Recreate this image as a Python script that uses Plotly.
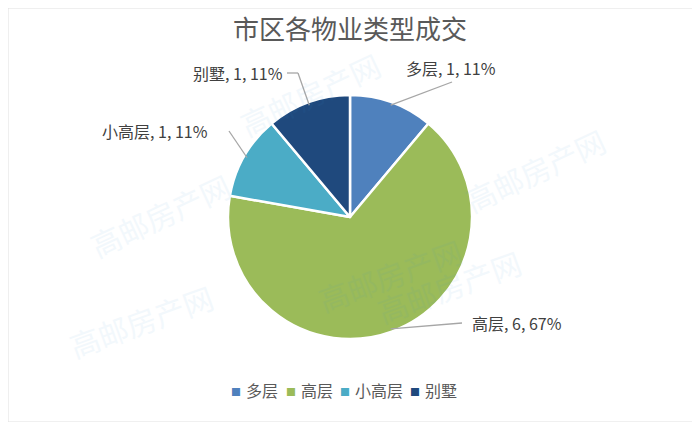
import math
import plotly.graph_objects as go

labels = ["多层", "高层", "小高层", "别墅"]
values = [1, 6, 1, 1]
colors = ["#4F81BD", "#9BBB59", "#4BACC6", "#1F497D"]
title = "市区各物业类型成交"

# the page body has an 8px margin; work in screen pixels and convert
OFF = 8
W, H = 700 - OFF, 422 - OFF


def px(x):
    return (x - OFF) / W


def py(y):
    return 1 - (y - OFF) / H


cx, cy, R = 350, 217, 122  # screen-pixel center / radius of the pie

# label positions and leader-line elbows (screen px) - style only
label_pos = {
    "多层": (451, 68, [(452, 82)]),
    "高层": (517, 323, [(462, 323)]),
    "小高层": (155, 131, [(229, 131)]),
    "别墅": (238, 73, [(287, 73), (298, 73)]),
}

fig = go.Figure(go.Pie(
    labels=labels, values=values, sort=False, direction="clockwise", rotation=0,
    marker=dict(colors=colors, line=dict(color="white", width=2.5)),
    textinfo="none", hoverinfo="label+value+percent",
    domain=dict(x=[px(cx - R), px(cx + R)], y=[py(cy + R), py(cy - R)]),
    showlegend=False,
))

total = sum(values)
cum = 0
shapes = []
annotations = []
for lab, v in zip(labels, values):
    mid = (cum + v / 2) / total * 2 * math.pi
    cum += v
    ax = cx + (R - 3) * math.sin(mid)
    ay = cy - (R - 3) * math.cos(mid)
    tx, ty, pts = label_pos[lab]
    path_pts = [(ax, ay)] + list(reversed(pts))
    for (x0, y0), (x1, y1) in zip(path_pts[:-1], path_pts[1:]):
        shapes.append(dict(type="line", xref="paper", yref="paper",
                           x0=px(x0), y0=py(y0), x1=px(x1), y1=py(y1),
                           line=dict(color="#A6A6A6", width=1.3)))
    pct = round(v / total * 100)
    annotations.append(dict(text=f"{lab}, {v}, {pct}%", x=px(tx), y=py(ty),
                            xref="paper", yref="paper", showarrow=False,
                            xanchor="center", yanchor="middle",
                            font=dict(size=16, color="#404040")))

# custom compact legend at the bottom
legend_x = [236, 291, 345, 415]
for lab, col, lx in zip(labels, colors, legend_x):
    annotations.append(dict(text="■", x=px(lx), y=py(391), xref="paper", yref="paper",
                            showarrow=False, xanchor="center", yanchor="middle",
                            font=dict(size=10, color=col)))
    annotations.append(dict(text=lab, x=px(lx + 8), y=py(390), xref="paper", yref="paper",
                            showarrow=False, xanchor="left", yanchor="middle",
                            font=dict(size=16, color="#595959")))

# faint watermarks
for (wx, wy, ang) in [(80, 215, -25), (615, 170, -25), (390, 275, -20), (530, 335, -20),
                      (230, 40, -25), (60, 370, -20)]:
    annotations.append(dict(text="高邮房产网", x=px(wx), y=py(wy), xref="paper", yref="paper",
                            showarrow=False, textangle=ang, opacity=0.06,
                            font=dict(size=30, color="#3A8FD0", family="Noto Sans CJK SC")))

shapes.append(dict(type="rect", xref="paper", yref="paper", x0=0, y0=0, x1=1, y1=1,
                   line=dict(color="#E0E0E0", width=1)))

fig.update_layout(
    width=W, height=H,
    margin=dict(l=0, r=0, t=0, b=0),
    paper_bgcolor="white", plot_bgcolor="white",
    font=dict(family="Noto Sans CJK SC, Microsoft YaHei, sans-serif", color="#595959"),
    title=dict(text=title, x=px(350), xanchor="center", y=py(30), yanchor="middle",
               font=dict(size=26, color="#595959")),
    showlegend=False,
    shapes=shapes, annotations=annotations,
)

fig.write_html("out.html")
